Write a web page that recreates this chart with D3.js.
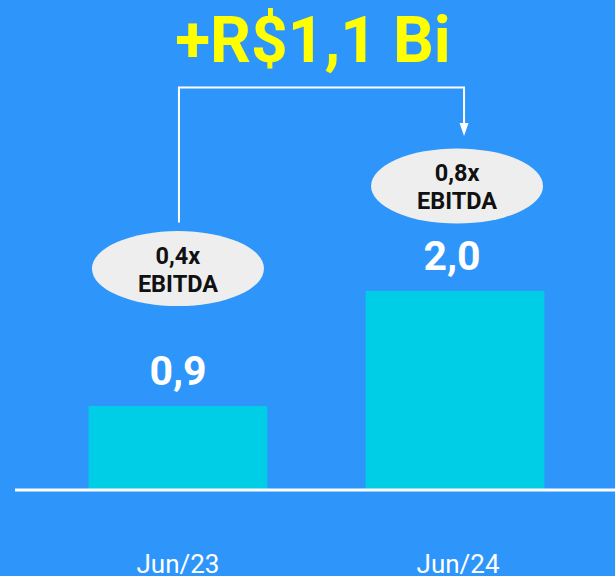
<!DOCTYPE html>
<html>
<head>
<meta charset="utf-8">
<script src="https://cdn.jsdelivr.net/npm/d3@7"></script>
<style>
  html, body { margin: 0; padding: 0; background: #2E96FA; overflow: hidden; }
  svg { display: block; }
  text { font-family: Roboto, "Noto Sans", sans-serif; }
</style>
</head>
<body>
<svg id="chart" width="615" height="576"></svg>
<script>
// ---- data ----
const categories = ["Jun/23", "Jun/24"];
const debtValues = [0.86, 2.04];          // R$ bi (bar heights)
const ebitdaMultiples = ["0,4x", "0,8x"];
const multipleLabel = "EBITDA";
const deltaLabel = "+R$1,1 Bi";

// ---- layout ----
const W = 615, H = 576;
const baseY = 490;
const svg = d3.select("#chart");

svg.append("rect").attr("width", W).attr("height", H).attr("fill", "#2E96FA");

const x = d3.scaleBand()
  .domain(categories)
  .range([16, 617])
  .paddingInner(0.355)
  .paddingOuter(0.262);

const y = d3.scaleLinear()
  .domain([0, 2.04])
  .range([baseY, 291]);

const fmt = v => v.toFixed(1).replace(".", ",");

// bars
svg.selectAll("rect.bar")
  .data(categories)
  .join("rect")
  .attr("class", "bar")
  .attr("x", d => x(d))
  .attr("width", x.bandwidth())
  .attr("y", (d, i) => y(debtValues[i]))
  .attr("height", (d, i) => baseY - y(debtValues[i]))
  .attr("fill", "#00CDE6");

// axis
const axis = svg.append("g")
  .attr("transform", `translate(0,${baseY})`)
  .call(d3.axisBottom(x).tickSize(0).tickSizeOuter(0).tickPadding(65));
axis.select(".domain").attr("stroke", "#FFFFFF").attr("stroke-width", 3)
  .attr("d", `M15,0H615`);
axis.selectAll(".tick text")
  .attr("fill", "#FFFFFF")
  .attr("font-size", 26)
  .attr("font-weight", 400)
  .attr("dx", (d, i) => i === 1 ? 3 : 0)
  .style("font-family", "Roboto, sans-serif");

// value labels
svg.selectAll("text.val")
  .data(categories)
  .join("text")
  .attr("class", "val")
  .attr("x", (d, i) => x(d) + x.bandwidth() / 2 + (i === 1 ? -3 : 0))
  .attr("y", (d, i) => y(debtValues[i]) - 21)
  .attr("text-anchor", "middle")
  .attr("fill", "#FFFFFF")
  .attr("font-size", 41)
  .attr("font-weight", 700)
  .text((d, i) => fmt(debtValues[i]));

// bubbles
const bubbleLift = [137.5, 105];
const bubbleDx = [0, 2];
const bub = svg.selectAll("g.bubble")
  .data(categories)
  .join("g")
  .attr("class", "bubble")
  .attr("transform", (d, i) =>
    `translate(${x(d) + x.bandwidth() / 2 + bubbleDx[i]},${y(debtValues[i]) - bubbleLift[i]})`);
bub.append("ellipse")
  .attr("rx", 86).attr("ry", 37.5)
  .attr("fill", "#EEEEEE");
bub.append("text")
  .attr("text-anchor", "middle")
  .attr("y", -5)
  .attr("fill", "#111111")
  .attr("font-size", 23.5)
  .attr("font-weight", 700)
  .text((d, i) => ebitdaMultiples[i]);
bub.append("text")
  .attr("text-anchor", "middle")
  .attr("y", 23)
  .attr("fill", "#111111")
  .attr("font-size", 23.5)
  .attr("font-weight", 700)
  .text(multipleLabel);

// connector with arrow
const x1 = x(categories[0]) + x.bandwidth() / 2 + 1;
const x2 = x(categories[1]) + x.bandwidth() / 2 + 9;
const topY = 87.5;
svg.append("path")
  .attr("d", `M${x1},${y(debtValues[0]) - bubbleLift[0] - 46}V${topY}H${x2}V125`)
  .attr("fill", "none")
  .attr("stroke", "#FFFFFF")
  .attr("stroke-width", 2);
svg.append("path")
  .attr("d", `M${x2 - 4.5},123L${x2 + 4.5},123L${x2},136Z`)
  .attr("fill", "#FFFFFF");

// headline
svg.append("text")
  .attr("x", x1 + 134)
  .attr("y", 62)
  .attr("text-anchor", "middle")
  .attr("fill", "#FFFF00")
  .attr("font-size", 64)
  .attr("font-weight", 700)
  .text(deltaLabel);
</script>
</body>
</html>
